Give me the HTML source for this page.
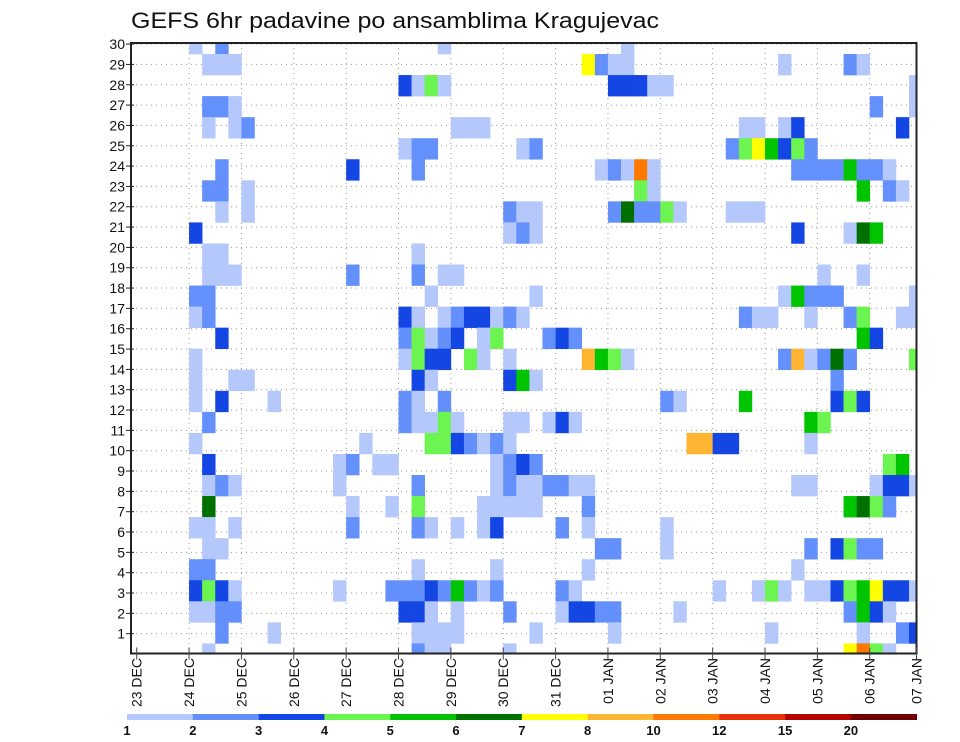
<!DOCTYPE html>
<html><head><meta charset="utf-8"><title>GEFS 6hr padavine</title>
<style>
html,body{margin:0;padding:0;background:#fff;}
svg{display:block;font-family:"Liberation Sans",sans-serif;}
</style></head>
<body>
<svg id="chart" width="960" height="742" viewBox="0 0 960 742" xmlns="http://www.w3.org/2000/svg">
<defs><clipPath id="plotclip"><rect x="131" y="43" width="785.5" height="610.5"/></clipPath></defs>
<rect x="0" y="0" width="960" height="742" fill="#fff"/>
<text x="131" y="28" font-size="22" textLength="528" lengthAdjust="spacingAndGlyphs" fill="#111">GEFS 6hr padavine po ansamblima Kragujevac</text>
<g id="grid"></g>
<g id="cells" clip-path="url(#plotclip)"></g>
<g id="axes"></g>
<g id="colorbar"></g>
</svg>
<script>
const dayLabels = ["23 DEC","24 DEC","25 DEC","26 DEC","27 DEC","28 DEC","29 DEC","30 DEC","31 DEC","01 JAN","02 JAN","03 JAN","04 JAN","05 JAN","06 JAN","07 JAN"];
const memberTicks = [1,2,3,4,5,6,7,8,9,10,11,12,13,14,15,16,17,18,19,20,21,22,23,24,25,26,27,28,29,30];
const levelLabels = ["1","2","3","4","5","6","7","8","10","12","15","20"];
const levelColors = ["#b4c8fc","#6490fc","#1446e4","#6cf450","#00c400","#007000","#ffff00","#ffb432","#ff7800","#e6320a","#b40000","#700000"];
// cells: [6-hr step index from 23 DEC 00Z, ensemble member row, colour level (1..12)]
const cells = [
[4,30,1],[6,30,2],[23,30,1],[37,30,1],
[5,29,1],[6,29,1],[7,29,1],[34,29,7],[35,29,2],[36,29,1],[37,29,1],[49,29,1],[54,29,2],[55,29,1],
[20,28,3],[21,28,1],[22,28,4],[23,28,1],[36,28,3],[37,28,3],[38,28,3],[39,28,1],[40,28,1],[59,28,1],
[5,27,2],[6,27,2],[7,27,1],[56,27,2],[59,27,1],
[5,26,1],[7,26,1],[8,26,2],[24,26,1],[25,26,1],[26,26,1],[46,26,1],[47,26,1],[49,26,1],[50,26,3],[58,26,3],
[20,25,1],[21,25,2],[22,25,2],[29,25,1],[30,25,2],[45,25,2],[46,25,4],[47,25,7],[48,25,5],[49,25,3],[50,25,4],[51,25,2],
[6,24,2],[16,24,3],[21,24,2],[35,24,1],[36,24,2],[37,24,1],[38,24,9],[39,24,1],[50,24,2],[51,24,2],[52,24,2],[53,24,2],[54,24,5],[55,24,2],[56,24,2],[57,24,1],
[5,23,2],[6,23,2],[8,23,1],[38,23,4],[39,23,1],[55,23,5],[57,23,2],[58,23,1],
[6,22,1],[8,22,1],[28,22,2],[29,22,1],[30,22,1],[36,22,2],[37,22,6],[38,22,2],[39,22,2],[40,22,4],[41,22,1],[45,22,1],[46,22,1],[47,22,1],
[4,21,3],[28,21,1],[29,21,2],[30,21,1],[50,21,3],[54,21,1],[55,21,6],[56,21,5],
[5,20,1],[6,20,1],[21,20,1],
[5,19,1],[6,19,1],[7,19,1],[16,19,2],[21,19,2],[23,19,1],[24,19,1],[52,19,1],[55,19,1],
[4,18,2],[5,18,2],[22,18,1],[30,18,1],[49,18,1],[50,18,5],[51,18,2],[52,18,2],[53,18,2],[59,18,1],
[4,17,1],[5,17,2],[20,17,3],[21,17,1],[23,17,1],[24,17,2],[25,17,3],[26,17,3],[27,17,1],[28,17,2],[29,17,1],[46,17,2],[47,17,1],[48,17,1],[51,17,1],[54,17,2],[55,17,4],[58,17,1],[59,17,1],
[6,16,3],[20,16,2],[21,16,4],[22,16,1],[23,16,2],[24,16,3],[26,16,1],[27,16,4],[31,16,2],[32,16,3],[33,16,2],[55,16,5],[56,16,3],
[4,15,1],[20,15,1],[21,15,4],[22,15,3],[23,15,3],[25,15,4],[26,15,1],[28,15,1],[34,15,8],[35,15,5],[36,15,4],[37,15,1],[49,15,2],[50,15,8],[51,15,1],[52,15,2],[53,15,6],[54,15,2],[59,15,4],
[4,14,1],[7,14,1],[8,14,1],[21,14,3],[22,14,1],[28,14,3],[29,14,5],[30,14,1],[53,14,2],
[4,13,1],[6,13,3],[10,13,1],[20,13,2],[21,13,1],[23,13,2],[40,13,2],[41,13,1],[46,13,5],[53,13,3],[54,13,4],[55,13,3],
[5,12,2],[20,12,2],[21,12,1],[22,12,1],[23,12,4],[24,12,1],[28,12,1],[29,12,1],[31,12,1],[32,12,3],[33,12,1],[51,12,5],[52,12,4],
[4,11,1],[17,11,1],[22,11,4],[23,11,4],[24,11,3],[25,11,2],[26,11,1],[27,11,2],[28,11,1],[42,11,8],[43,11,8],[44,11,3],[45,11,3],[51,11,1],
[5,10,3],[15,10,1],[16,10,2],[18,10,1],[19,10,1],[27,10,1],[28,10,2],[29,10,3],[30,10,2],[57,10,4],[58,10,5],
[5,9,1],[6,9,2],[7,9,1],[15,9,1],[21,9,2],[27,9,1],[28,9,2],[29,9,1],[30,9,1],[31,9,2],[32,9,2],[33,9,1],[34,9,1],[50,9,1],[51,9,1],[56,9,1],[57,9,3],[58,9,3],[59,9,1],
[5,8,6],[16,8,1],[19,8,1],[21,8,4],[26,8,1],[27,8,1],[28,8,1],[29,8,1],[30,8,1],[34,8,2],[54,8,5],[55,8,6],[56,8,4],[57,8,2],
[4,7,1],[5,7,1],[7,7,1],[16,7,2],[21,7,2],[22,7,1],[24,7,1],[26,7,1],[27,7,3],[32,7,2],[34,7,1],[40,7,1],
[5,6,1],[6,6,1],[35,6,2],[36,6,2],[40,6,1],[51,6,2],[53,6,3],[54,6,4],[55,6,2],[56,6,2],
[4,5,2],[5,5,2],[21,5,1],[27,5,1],[34,5,1],[50,5,1],
[4,4,3],[5,4,4],[6,4,3],[7,4,1],[15,4,1],[19,4,2],[20,4,2],[21,4,2],[22,4,3],[23,4,2],[24,4,5],[25,4,2],[26,4,1],[27,4,2],[32,4,2],[33,4,1],[44,4,1],[47,4,1],[48,4,4],[49,4,1],[51,4,1],[52,4,1],[53,4,3],[54,4,4],[55,4,5],[56,4,7],[57,4,3],[58,4,3],[59,4,1],
[4,3,1],[5,3,1],[6,3,2],[7,3,2],[20,3,3],[21,3,3],[22,3,1],[24,3,1],[28,3,2],[32,3,1],[33,3,3],[34,3,3],[35,3,2],[36,3,2],[41,3,1],[54,3,2],[55,3,5],[56,3,3],[57,3,1],
[6,2,2],[10,2,1],[21,2,1],[22,2,1],[23,2,1],[24,2,1],[30,2,1],[36,2,1],[48,2,1],[55,2,1],[58,2,2],[59,2,3],
[5,1,1],[21,1,2],[22,1,1],[23,1,1],[28,1,1],[54,1,7],[55,1,9],[56,1,4],[57,1,1]
];

const NS = "http://www.w3.org/2000/svg";
const PL = 131, PR = 916.5, PT = 43, PB = 653.5;
const X0 = 136.7, DAYW = 52.36, STEPW = DAYW / 4;
function xDay(d){ return X0 + d * DAYW; }
function xStep(t){ return X0 + t * STEPW; }
function yVal(v){ return 654 - v * 20.33; }
const ROWH = 21.05;
function yRowTop(r){ return 54 + (29 - r) * ROWH; }
function mk(tag, attrs, parent){
  const e = document.createElementNS(NS, tag);
  for (const k in attrs) e.setAttribute(k, attrs[k]);
  parent.appendChild(e); return e;
}

// grid
const grid = document.getElementById('grid');


for (let d = 1; d < dayLabels.length - 1; d++) {
  const l = mk('line', {x1: xDay(d), x2: xDay(d), y1: PT, y2: PB, stroke: '#999', 'stroke-width': 1, 'stroke-dasharray': '1,4'}, grid);
  
  
}
memberTicks.forEach(v => {
  const l = mk('line', {x1: PL, x2: PR, y1: yVal(v), y2: yVal(v), stroke: '#999', 'stroke-width': 1, 'stroke-dasharray': '1,4'}, grid);
  
  
});

// cells
const cg = document.getElementById('cells');


cells.forEach(c => {
  const t = c[0], r = c[1], lv = c[2];
  const rc = mk('rect', {x: xStep(t).toFixed(2), y: yRowTop(r).toFixed(2), width: (STEPW + 0.3).toFixed(2), height: (ROWH + 0.3).toFixed(2), fill: levelColors[lv - 1]}, cg);
  
  
});

// axes
const ax = document.getElementById('axes');
const frame = mk('rect', {x: PL, y: PT, width: PR - PL, height: PB - PT, fill: 'none', stroke: '#222', 'stroke-width': 2}, ax);


memberTicks.forEach(v => {
  const y = yVal(v);
  const tk = mk('line', {x1: PL - 5, x2: PL + 3, y1: y, y2: y, stroke: '#222', 'stroke-width': 1}, ax);
  
  
  const tx = mk('text', {x: PL - 6, y: y + 5, 'font-size': 14, 'text-anchor': 'end', fill: '#111'}, ax);
  tx.textContent = v;
  
  
});
dayLabels.forEach((lab, d) => {
  const x = Math.min(xDay(d), PR);
  const tk = mk('line', {x1: x, x2: x, y1: PB - 6, y2: PB + 6, stroke: '#444', 'stroke-width': 1}, ax);
  
  
  const tx = mk('text', {x: 0, y: 0, 'font-size': 14, 'text-anchor': 'end', fill: '#111', transform: 'translate(' + (x + 5) + ',658) rotate(-90)', 'xml:space': 'preserve'}, ax);
  tx.textContent = lab.replace(' ', '  ');
  
  
});

// colorbar
const cb = document.getElementById('colorbar');


const CB0 = 127, CB1 = 916.7, CBW = (CB1 - CB0) / levelColors.length;
levelColors.forEach((col, i) => {
  const r = mk('rect', {x: (CB0 + i * CBW).toFixed(2), y: 714, width: (CBW + 0.3).toFixed(2), height: 6, fill: col}, cb);
  
  
});
levelLabels.forEach((lab, i) => {
  const tx = mk('text', {x: (CB0 + i * CBW).toFixed(2), y: 735, 'font-size': 13, 'font-weight': 'bold', 'text-anchor': 'middle', fill: '#111'}, cb);
  tx.textContent = lab;
  
  
});
</script>
</body></html>
